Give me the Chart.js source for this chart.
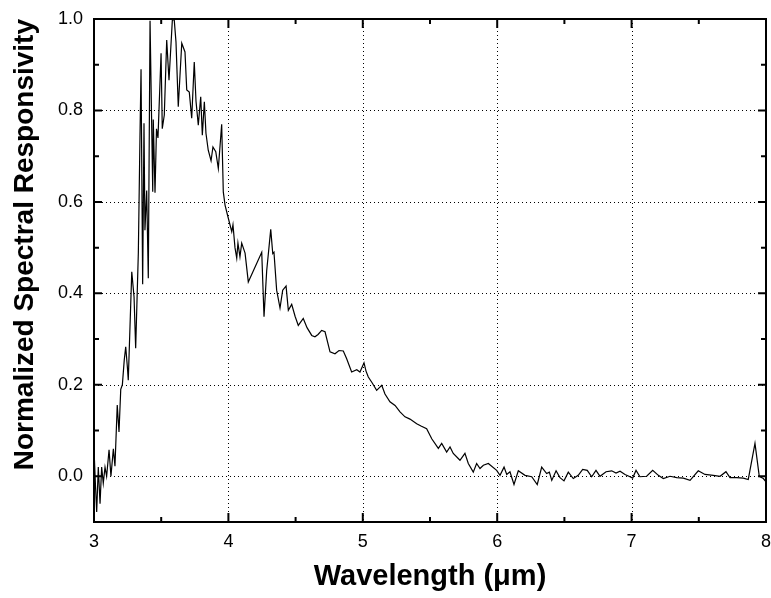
<!DOCTYPE html>
<html>
<head>
<meta charset="utf-8">
<script src="https://cdn.jsdelivr.net/npm/chart.js@4.4.1/dist/chart.umd.min.js"></script>
<style>
  html, body { margin: 0; padding: 0; background: #fff; }
  #wrap { width: 771px; height: 598px; }
</style>
</head>
<body>
<div id="wrap"><canvas id="responsivityChart" width="771" height="598"></canvas></div>
<script>
// wavelength in um, normalized responsivity
var wavelength = [
    3.002, 3.011, 3.020, 3.032, 3.045, 3.057, 3.069, 3.082, 3.094, 3.112,
    3.126, 3.144, 3.156, 3.173, 3.186, 3.199, 3.211, 3.225, 3.236, 3.248,
    3.255, 3.281, 3.298, 3.310, 3.330, 3.342, 3.350, 3.362, 3.372, 3.379,
    3.392, 3.404, 3.417, 3.437, 3.441, 3.454, 3.465, 3.476, 3.499, 3.508,
    3.523, 3.541, 3.558, 3.583, 3.597, 3.610, 3.627, 3.653, 3.677, 3.690,
    3.709, 3.727, 3.746, 3.759, 3.776, 3.794, 3.806, 3.821, 3.833, 3.850,
    3.871, 3.885, 3.906, 3.925, 3.950, 3.962, 3.975, 3.997, 4.025, 4.034,
    4.049, 4.062, 4.071, 4.086, 4.099, 4.124, 4.148, 4.248, 4.265, 4.285,
    4.315, 4.330, 4.339, 4.359, 4.384, 4.404, 4.429, 4.446, 4.471, 4.496,
    4.520, 4.557, 4.585, 4.620, 4.644, 4.667, 4.694, 4.719, 4.756, 4.793,
    4.823, 4.855, 4.880, 4.917, 4.955, 4.979, 5.009, 5.024, 5.041, 5.068,
    5.103, 5.141, 5.165, 5.202, 5.240, 5.277, 5.314, 5.351, 5.401, 5.433,
    5.475, 5.513, 5.562, 5.587, 5.624, 5.649, 5.673, 5.723, 5.760, 5.785,
    5.822, 5.847, 5.872, 5.897, 5.934, 5.996, 6.021, 6.051, 6.071, 6.095,
    6.125, 6.157, 6.207, 6.257, 6.298, 6.331, 6.368, 6.388, 6.406, 6.438,
    6.467, 6.497, 6.529, 6.566, 6.603, 6.636, 6.670, 6.703, 6.735, 6.765,
    6.810, 6.852, 6.884, 6.914, 6.951, 6.988, 7.008, 7.033, 7.062, 7.112,
    7.157, 7.199, 7.236, 7.286, 7.336, 7.385, 7.435, 7.496, 7.546, 7.608,
    7.658, 7.702, 7.732, 7.782, 7.831, 7.868, 7.918, 7.950, 7.980, 8.000
];
var responsivity = [
    0.046, -0.020, -0.078, 0.020, -0.060, 0.020, -0.015, 0.020, 0.000, 0.058,
    0.000, 0.060, 0.022, 0.156, 0.097, 0.190, 0.200, 0.254, 0.283, 0.240,
    0.210, 0.447, 0.392, 0.280, 0.490, 0.742, 0.890, 0.420, 0.772, 0.538,
    0.625, 0.433, 0.996, 0.622, 0.780, 0.620, 0.760, 0.740, 0.925, 0.760,
    0.790, 0.954, 0.866, 0.998, 0.998, 0.950, 0.808, 0.947, 0.928, 0.845,
    0.840, 0.783, 0.906, 0.820, 0.768, 0.830, 0.746, 0.819, 0.750, 0.713,
    0.690, 0.720, 0.710, 0.673, 0.770, 0.622, 0.593, 0.567, 0.535, 0.550,
    0.500, 0.477, 0.510, 0.480, 0.510, 0.488, 0.425, 0.490, 0.349, 0.450,
    0.540, 0.487, 0.490, 0.407, 0.368, 0.407, 0.416, 0.363, 0.376, 0.350,
    0.330, 0.345, 0.325, 0.308, 0.305, 0.310, 0.319, 0.316, 0.272, 0.268,
    0.275, 0.274, 0.257, 0.228, 0.233, 0.228, 0.248, 0.230, 0.217, 0.205,
    0.188, 0.199, 0.180, 0.163, 0.155, 0.141, 0.130, 0.125, 0.115, 0.110,
    0.104, 0.082, 0.061, 0.072, 0.053, 0.064, 0.050, 0.035, 0.050, 0.028,
    0.009, 0.028, 0.017, 0.024, 0.028, 0.013, 0.002, 0.020, 0.004, 0.010,
    -0.018, 0.012, 0.002, -0.001, -0.018, 0.020, 0.006, 0.009, -0.009, 0.012,
    -0.003, -0.010, 0.009, -0.005, 0.002, 0.015, 0.013, -0.001, 0.013, 0.000,
    0.010, 0.012, 0.007, 0.011, 0.004, -0.001, -0.004, 0.013, -0.001, 0.000,
    0.013, 0.002, -0.005, 0.000, -0.003, -0.004, -0.009, 0.012, 0.004, 0.002,
    0.000, 0.010, -0.003, -0.003, -0.004, -0.007, 0.072, 0.000, -0.005, -0.012
];

var xTicks = [3, 4, 5, 6, 7, 8];
var xMinorTicks = [3.5, 4.5, 5.5, 6.5, 7.5];
var yTicks = [0.0, 0.2, 0.4, 0.6, 0.8, 1.0];
var yMinorTicks = [0.1, 0.3, 0.5, 0.7, 0.9];

var points = wavelength.map(function(w, i) { return { x: w, y: responsivity[i] }; });

var FONT = '"Liberation Sans", Arial, Helvetica, sans-serif';

// dotted grid, closed frame, inward ticks (Origin style)
var originFrame = {
    id: 'originFrame',
    beforeDatasetsDraw: function(chart) {
        var ctx = chart.ctx, a = chart.chartArea;
        var xs = chart.scales.x, ys = chart.scales.y;
        ctx.save();
        ctx.strokeStyle = '#000';
        ctx.lineWidth = 1;
        ctx.setLineDash([1, 3]);
        xTicks.forEach(function(v) {
            var px = Math.round(xs.getPixelForValue(v)) + 0.5;
            if (px < a.left + 2 || px > a.right - 2) return;
            ctx.beginPath(); ctx.moveTo(px, a.top); ctx.lineTo(px, a.bottom); ctx.stroke();
        });
        yTicks.forEach(function(v) {
            var py = Math.round(ys.getPixelForValue(v)) + 0.5;
            if (py < a.top + 2 || py > a.bottom - 2) return;
            ctx.beginPath(); ctx.moveTo(a.left, py); ctx.lineTo(a.right, py); ctx.stroke();
        });
        ctx.restore();
    },
    afterDatasetsDraw: function(chart) {
        var ctx = chart.ctx, a = chart.chartArea;
        var xs = chart.scales.x, ys = chart.scales.y;
        ctx.save();
        ctx.strokeStyle = '#000';
        ctx.lineWidth = 2;
        ctx.strokeRect(a.left, a.top, a.right - a.left, a.bottom - a.top);
        function xt(v, len) {
            var px = xs.getPixelForValue(v);
            ctx.beginPath();
            ctx.moveTo(px, a.bottom); ctx.lineTo(px, a.bottom - len);
            ctx.moveTo(px, a.top); ctx.lineTo(px, a.top + len);
            ctx.stroke();
        }
        function yt(v, len) {
            var py = ys.getPixelForValue(v);
            ctx.beginPath();
            ctx.moveTo(a.left, py); ctx.lineTo(a.left + len, py);
            ctx.moveTo(a.right, py); ctx.lineTo(a.right - len, py);
            ctx.stroke();
        }
        xTicks.forEach(function(v) { xt(v, 9); });
        xMinorTicks.forEach(function(v) { xt(v, 5); });
        yTicks.forEach(function(v) { yt(v, 8); });
        yMinorTicks.forEach(function(v) { yt(v, 5); });
        ctx.restore();
    }
};

var ctx = document.getElementById('responsivityChart').getContext('2d');
var responsivityChart = new Chart(ctx, {
    type: 'line',
    data: {
        datasets: [{
            data: points,
            borderColor: '#000',
            borderWidth: 1.2,
            pointRadius: 0,
            tension: 0,
            fill: false
        }]
    },
    options: {
        responsive: false,
        animation: false,
        devicePixelRatio: 1,
        layout: { padding: { top: 19, right: 5, left: 0, bottom: 0 } },
        plugins: { legend: { display: false }, tooltip: { enabled: false } },
        scales: {
            x: {
                type: 'linear',
                min: 3,
                max: 8,
                afterBuildTicks: function(scale) {
                    scale.ticks = xTicks.map(function(v) { return { value: v }; });
                },
                afterFit: function(scale) {
                    scale.height = 76;
                    scale.paddingLeft = 0;
                    scale.paddingRight = 0;
                },
                grid: { display: false, drawTicks: false },
                border: { display: false },
                ticks: {
                    color: '#000',
                    padding: 9,
                    maxRotation: 0,
                    font: { family: FONT, size: 18 },
                    callback: function(v) { return String(v); }
                },
                title: {
                    display: true,
                    text: 'Wavelength (\u03bcm)',
                    color: '#000',
                    padding: { top: 0, bottom: 4 },
                    font: { family: FONT, size: 29, weight: 'bold' }
                }
            },
            y: {
                type: 'linear',
                min: -0.1,
                max: 1.0,
                afterBuildTicks: function(scale) {
                    scale.ticks = yTicks.map(function(v) { return { value: v }; });
                },
                afterFit: function(scale) {
                    scale.width = 94;
                    scale.paddingTop = 0;
                    scale.paddingBottom = 0;
                },
                grid: { display: false, drawTicks: false },
                border: { display: false },
                ticks: {
                    color: '#000',
                    padding: 11,
                    font: { family: FONT, size: 18 },
                    callback: function(v) { return Number(v).toFixed(1); }
                },
                title: {
                    display: true,
                    align: 'end',
                    text: 'Normalized Spectral Responsivity',
                    color: '#000',
                    padding: { top: 8, bottom: 0 },
                    font: { family: FONT, size: 28, weight: 'bold' }
                }
            }
        }
    },
    plugins: [originFrame]
});
</script>
</body>
</html>
